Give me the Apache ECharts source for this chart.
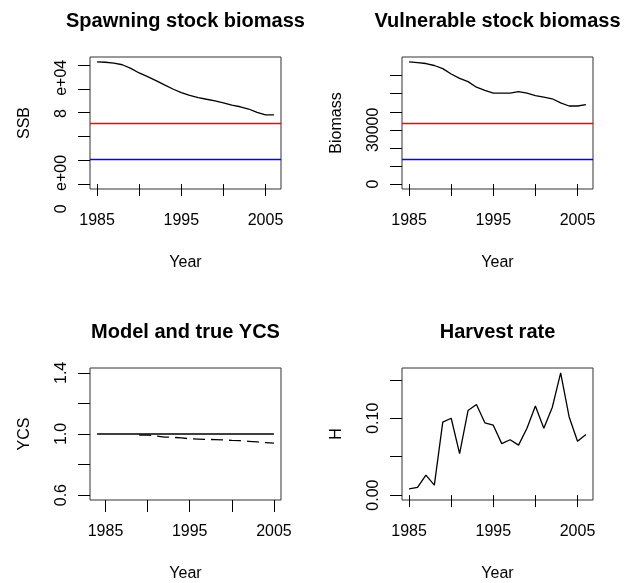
<!DOCTYPE html>
<html><head><meta charset="utf-8">
<script src="https://cdn.jsdelivr.net/npm/echarts@6/dist/echarts.min.js"></script>
<style>html,body{margin:0;padding:0;background:#fff}#c{width:624px;height:583px}</style>
</head><body><div id="c"></div>
<script>
// ---- data ----
const years = [1985,1986,1987,1988,1989,1990,1991,1992,1993,1994,1995,1996,1997,1998,1999,2000,2001,2002,2003,2004,2005,2006];
const ssb = [102700,102400,101600,100300,97200,93400,90300,87000,83400,79900,76800,74600,72700,71300,70000,68300,66400,65000,63100,60300,58100,58100];
const ssbRefRed = 51350;
const ssbRefBlue = 20540;
const vuln = [67600,67200,66700,65600,63900,60900,58500,56700,53600,51800,50300,50300,50300,51200,50300,49000,48100,47200,44900,43200,43200,44000];
const vulnRefRed = 33800;
const vulnRefBlue = 13520;
const ycsTrueYears = [1984,1985,1986,1987,1988,1989,1990,1991,1992,1993,1994,1995,1996,1997,1998,1999,2000,2001,2002,2003,2004,2005];
const ycsTrue = [1,1,1,1,1,1,1,1,1,1,1,1,1,1,1,1,1,1,1,1,1,1];
const ycsModelYears = [1989,1990,1991,1992,1993,1994,1995,1996,1997,1998,1999,2000,2001,2002,2003,2004,2005];
const ycsModel = [0.993,0.993,0.987,0.980,0.978,0.974,0.969,0.967,0.965,0.963,0.961,0.958,0.956,0.952,0.948,0.944,0.940];
const harvest = [0.008,0.010,0.026,0.013,0.095,0.100,0.054,0.110,0.118,0.094,0.091,0.067,0.072,0.065,0.087,0.116,0.087,0.114,0.159,0.102,0.070,0.079];

const xTicks = [1985,1990,1995,2000,2005];
const xLabelValues = [1985,1995,2005];
const ssbTicks = [0,20000,40000,60000,80000,100000];
const ssbLabelValues = [0,80000];
const ssbLabelTexts = ['0   e+00','8   e+04'];
const vulnTicks = [0,10000,20000,30000,40000,50000,60000];
const vulnLabelValues = [0,30000];
const ycsTicks = [0.6,0.8,1.0,1.2,1.4];
const ycsLabelValues = [0.6,1.0,1.4];
const hTicks = [0,0.05,0.10,0.15];
const hLabelValues = [0,0.10];

const titles = ['Spawning stock biomass','Vulnerable stock biomass','Model and true YCS','Harvest rate'];
const yNames = ['SSB','Biomass','YCS','H'];
const xName = 'Year';

// ---- layout ----
const FONT = '"Liberation Sans", Arial, sans-serif';
const grids = [
  {left:90, top:57, width:191, height:132},
  {left:402, top:57, width:191, height:132},
  {left:90, top:368, width:191, height:132},
  {left:402, top:368, width:191, height:132}
];
const xRanges = [[1984.16,2006.84],[1984.16,2006.84],[1983.16,2005.84],[1984.16,2006.84]];
const yRanges = [[-4108,106808],[-2704,70304],[0.568,1.432],[-0.00636,0.16536]];

function pairs(xs, ys){ return xs.map((x,i)=>[x, ys[i]]); }

function xAxis(i){
  return {
    type:'value', gridIndex:i, min:xRanges[i][0], max:xRanges[i][1],
    axisLine:{show:false}, splitLine:{show:false},
    axisTick:{show:true, length:12, customValues:xTicks, lineStyle:{color:'#000', width:1}},
    axisLabel:{customValues:xLabelValues, margin:24, fontSize:16, color:'#000', fontFamily:FONT,
      formatter:v=>String(v)},
    name:xName, nameLocation:'middle', nameGap:66,
    nameTextStyle:{fontSize:16, color:'#000', fontFamily:FONT}
  };
}
function yAxis(i, ticks, labelVals, fmt){
  return {
    type:'value', gridIndex:i, min:yRanges[i][0], max:yRanges[i][1],
    axisLine:{show:false}, splitLine:{show:false},
    axisTick:{show:true, length:12, customValues:ticks, lineStyle:{color:'#000', width:1}},
    axisLabel:{customValues:labelVals, rotate:90, margin:20, fontSize:16, color:'#000', fontFamily:FONT,
      formatter:fmt},
    name:yNames[i], nameLocation:'middle', nameGap:57,
    nameTextStyle:{fontSize:16, color:'#000', fontFamily:FONT}
  };
}

function refLine(v, color){
  return {yAxis:v, lineStyle:{color:color, width:1.3, type:'solid'}};
}

const lineStyle = {color:'#000', width:1.3};

const option = {
  animation:false,
  backgroundColor:'#fff',
  title: titles.map((t,i)=>({
    text:t, left:grids[i].left + grids[i].width/2, top: i<2 ? 11 : 322,
    textAlign:'center', padding:0,
    textStyle:{fontSize:20, fontWeight:'bold', color:'#000', fontFamily:FONT}
  })),
  grid: grids.map(g=>Object.assign({show:true, borderColor:'#333', borderWidth:1, backgroundColor:'transparent', containLabel:false}, g)),
  xAxis:[xAxis(0), xAxis(1), xAxis(2), xAxis(3)],
  yAxis:[
    yAxis(0, ssbTicks, ssbLabelValues, v=>ssbLabelTexts[ssbLabelValues.indexOf(v)]),
    yAxis(1, vulnTicks, vulnLabelValues, v=>String(v)),
    yAxis(2, ycsTicks, ycsLabelValues, v=>v.toFixed(1)),
    yAxis(3, hTicks, hLabelValues, v=>v.toFixed(2))
  ],
  series:[
    {type:'line', xAxisIndex:0, yAxisIndex:0, data:pairs(years, ssb), symbol:'none', lineStyle:lineStyle,
      markLine:{symbol:'none', silent:true, label:{show:false}, data:[refLine(ssbRefRed,'#ff0000'), refLine(ssbRefBlue,'#0000ff')]}},
    {type:'line', xAxisIndex:1, yAxisIndex:1, data:pairs(years, vuln), symbol:'none', lineStyle:lineStyle,
      markLine:{symbol:'none', silent:true, label:{show:false}, data:[refLine(vulnRefRed,'#ff0000'), refLine(vulnRefBlue,'#0000ff')]}},
    {type:'line', xAxisIndex:2, yAxisIndex:2, data:pairs(ycsTrueYears, ycsTrue), symbol:'none', lineStyle:lineStyle},
    {type:'line', xAxisIndex:2, yAxisIndex:2, data:pairs(ycsModelYears, ycsModel), symbol:'none',
      lineStyle:{color:'#000', width:1.3, type:[12,6]}},
    {type:'line', xAxisIndex:3, yAxisIndex:3, data:pairs(years, harvest), symbol:'none', lineStyle:lineStyle}
  ]
};
const chart = echarts.init(document.getElementById('c'), null, {renderer:'canvas'});
chart.setOption(option);
</script>
</body></html>
